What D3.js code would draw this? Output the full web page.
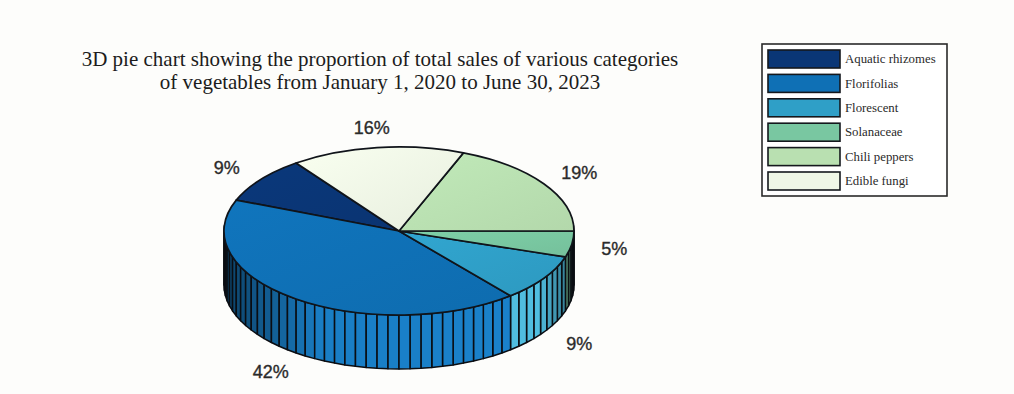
<!DOCTYPE html>
<html>
<head>
<meta charset="utf-8">
<script src="https://cdn.jsdelivr.net/npm/d3@7"></script>
<style>
  html, body { margin: 0; padding: 0; background: #fdfdfb; }
  svg { display: block; }
</style>
</head>
<body>
<svg id="chart" width="1014" height="394"></svg>
<script>
// Sales share per vegetable category, in percent
const categories = ["Aquatic rhizomes", "Florifolias", "Florescent", "Solanaceae", "Chili peppers", "Edible fungi"];
const shares = [9, 42, 9, 5, 19, 16];
const topColors = ["#0a3676", "#0f70b5", "#2f9fc7", "#79c7a1", "#b9e0b1", "#eff7e6"];
const sideColors = ["#0a3676", "#1a82cc", "#50bee0", "#7fcfa8", "#b9e0b1", "#eff7e6"];
const titleLines = [
  "3D pie chart showing the proportion of total sales of various categories",
  "of vegetables from January 1, 2020 to June 30, 2023"
];

const svg = d3.select("#chart");
const serif = "'Liberation Serif', serif";
const sans = "'Liberation Sans', sans-serif";

const cx = 399, cy = 231, rx = 175, ry = 84, depth = 54;

// Disc projection: unit circle onto the tilted ellipse
const px = d3.scaleLinear().domain([-1, 1]).range([cx - rx, cx + rx]);
const py = d3.scaleLinear().domain([-1, 1]).range([cy + ry, cy - ry]);
const onRim = (a, drop = 0) => [px(Math.sin(a)), py(Math.cos(a)) + drop];

// Slices run counter-clockwise on screen, with Solanaceae/Chili meeting due east
const start = Math.PI / 2 + 0.65 * 2 * Math.PI;
const slices = d3.pie().sort(null).startAngle(start).endAngle(start - 2 * Math.PI)(shares);

const defs = svg.append("defs");
slices.forEach((s, i) => {
  const g = defs.append("linearGradient").attr("id", "top" + i)
    .attr("x1", "0").attr("y1", "0").attr("x2", "1").attr("y2", "1");
  const c = d3.color(topColors[i]);
  g.append("stop").attr("offset", "0%").attr("stop-color", c.brighter(0.12));
  g.append("stop").attr("offset", "100%").attr("stop-color", c.darker(0.1));
});

// Side wall: one facet per percentage point, only where it faces the viewer
const shade = d3.scaleLinear().domain([-1, -0.8, -0.45, 0.8, 0.97, 1]).range([1.9, 1.1, 0.1, 0, 1.2, 2.4]).clamp(true);
const wall = svg.append("g");
const facets = slices.flatMap((s, i) => {
  const n = shares[i];
  return d3.range(n).map(k => ({
    i,
    a0: s.startAngle + (s.endAngle - s.startAngle) * k / n,
    a1: s.startAngle + (s.endAngle - s.startAngle) * (k + 1) / n
  }));
}).filter(f => Math.cos((f.a0 + f.a1) / 2) < 0.06);

const quad = d3.line();
facets.sort((a, b) => Math.cos(b.a0) - Math.cos(a.a0));
wall.selectAll("path").data(facets).join("path")
  .attr("d", f => quad([onRim(f.a0), onRim(f.a1), onRim(f.a1, depth), onRim(f.a0, depth)]) + "Z")
  .attr("fill", f => d3.color(sideColors[f.i]).darker(shade(Math.sin((f.a0 + f.a1) / 2))))
  .attr("stroke", "#0a0d12")
  .attr("stroke-width", 1.5)
  .attr("stroke-linejoin", "round");

// Top face
const arc = d3.arc().innerRadius(0).outerRadius(1);
svg.append("g")
  .attr("transform", `translate(${cx},${cy}) scale(${rx},${ry})`)
  .selectAll("path").data(slices).join("path")
  .attr("d", d => arc({ startAngle: d.endAngle, endAngle: d.startAngle }))
  .attr("fill", (d, i) => `url(#top${i})`)
  .attr("stroke", "#10141a")
  .attr("stroke-width", 1.7)
  .attr("stroke-linejoin", "round")
  .attr("vector-effect", "non-scaling-stroke");

// Percentage labels around the disc, pushed below the wall on the front side
svg.append("g").selectAll("text").data(slices).join("text")
  .attr("x", d => cx + 218 * Math.sin((d.startAngle + d.endAngle) / 2))
  .attr("y", d => {
    const c = Math.cos((d.startAngle + d.endAngle) / 2);
    const push = Math.min(1, Math.max(0, (-c - 0.15) / 0.35)) * depth;
    return cy - 104 * c + push + (c < -0.7 ? 2 : 0);
  })
  .attr("dy", "0.36em")
  .attr("text-anchor", "middle")
  .attr("font-family", sans)
  .attr("font-size", 18)
  .attr("fill", "#2b2b2b")
  .attr("stroke", "#2b2b2b")
  .attr("stroke-width", 0.35)
  .text((d, i) => shares[i] + "%");

// Title
svg.append("g").selectAll("text").data(titleLines).join("text")
  .attr("x", 380)
  .attr("y", (d, i) => 66 + i * 23)
  .attr("text-anchor", "middle")
  .attr("font-family", serif)
  .attr("font-size", 21)
  .attr("fill", "#1c1c1c")
  .text(d => d);

// Legend
const legend = svg.append("g");
legend.append("rect")
  .attr("x", 762).attr("y", 44).attr("width", 185).attr("height", 152)
  .attr("fill", "#ffffff").attr("stroke", "#2a2a2a").attr("stroke-width", 1.6);
const rowY = d3.scalePoint().domain(categories).range([59, 181]);
const rows = legend.selectAll("g").data(categories).join("g")
  .attr("transform", d => `translate(0,${rowY(d)})`);
rows.append("rect")
  .attr("x", 768).attr("y", -9).attr("width", 72).attr("height", 18)
  .attr("fill", (d, i) => topColors[i])
  .attr("stroke", "#14181d").attr("stroke-width", 1.6);
rows.append("text")
  .attr("x", 845).attr("dy", "0.32em")
  .attr("font-family", serif)
  .attr("font-size", 12.8)
  .attr("fill", "#2a2a2a")
  .text(d => d);
</script>
</body>
</html>
